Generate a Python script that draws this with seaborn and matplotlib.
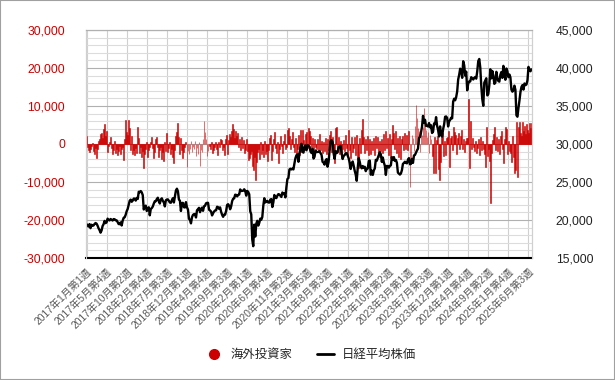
import numpy as np
import pandas as pd
import seaborn as sns
import matplotlib.pyplot as plt
from matplotlib.lines import Line2D
from matplotlib.patches import Rectangle
from matplotlib.ticker import FuncFormatter, MultipleLocator

# weekly Nikkei average close (2017 wk1 .. 2025 Jul wk3)
nikkei = [
    # 2017
    19454, 19287, 19137, 19467, 18918, 19378, 19234, 19283, 19469, 19604, 19521, 19262, 18909,
    18664, 18335, 18620, 19197, 19445, 19883, 19590, 19686, 20177, 20013, 19943, 20132, 20033,
    19929, 20118, 20099, 19959, 19952, 19729, 19470, 19452, 19691, 19274, 19909, 20296, 20356,
    20690, 21155, 21457, 22008, 22539, 22681, 22397, 22550, 22819, 22811, 22553, 22902, 22765,
    # 2018
    23714, 23653, 23808, 23632, 23274, 21383, 21720, 21892, 21182, 21469, 21676, 20618, 21454,
    21568, 21778, 22162, 22468, 22472, 22758, 22930, 22451, 22171, 22694, 22851, 22516, 22305,
    21788, 22597, 22697, 22712, 22525, 22298, 22270, 22601, 22865, 22307, 23094, 23870, 24120,
    23783, 22694, 22532, 21184, 22243, 22250, 21680, 21646, 22351, 21679, 21374, 20166, 20015,
    # 2019
    19561, 20359, 20666, 20773, 20788, 20333, 21281, 21425, 21602, 21025, 21450, 21627, 21205,
    21807, 21870, 22200, 22258, 22258, 21344, 21250, 21117, 20601, 20884, 21116, 21258, 21275,
    21746, 21685, 21466, 21658, 21087, 20684, 20418, 20710, 20704, 21199, 21988, 22079, 21878,
    21410, 21798, 22492, 22799, 22850, 23331, 23303, 23112, 23293, 23354, 24023, 23816, 23837,
    # 2020
    23850, 24041, 23827, 23205, 23828, 23688, 23387, 21143, 20750, 17431, 16553, 19389, 17820,
    19498, 19897, 19262, 19619, 20179, 20037, 20388, 21877, 22863, 22305, 22478, 22512, 22306,
    22291, 22696, 22751, 21710, 22329, 23289, 22920, 22882, 23205, 23406, 23360, 23205, 23029,
    23619, 23410, 23516, 22977, 24325, 25385, 25527, 26644, 26751, 26652, 26763, 26656, 27444,
    # 2021
    28139, 28519, 28631, 27663, 28779, 29520, 30018, 28966, 28864, 29717, 29792, 29177, 29854,
    29768, 29683, 29020, 28813, 29358, 28084, 28318, 29149, 28942, 28949, 28964, 29066, 28783,
    28569, 27652, 27548, 27284, 27820, 28015, 27013, 27641, 29128, 30382, 30500, 30248, 28771,
    28048, 29068, 28804, 28892, 29611, 29609, 29745, 28751, 28029, 28437, 28545, 28782, 28791,
    # 2022
    28479, 28124, 27522, 26717, 27440, 27696, 27122, 26476, 25985, 25163, 26827, 28149, 27666,
    26985, 26799, 27105, 26847, 27003, 26427, 26739, 26782, 27761, 27824, 25963, 26491, 25935,
    26517, 26788, 27914, 27801, 28175, 28546, 28930, 28641, 27650, 28214, 27567, 27153, 25937,
    27116, 27090, 26890, 27105, 27199, 28263, 27899, 28283, 27777, 27901, 27527, 26235, 26094,
    # 2023
    25974, 26120, 26554, 27383, 27509, 27671, 27513, 27453, 27927, 28143, 27333, 27385, 28041,
    27518, 28493, 28564, 28856, 29157, 29388, 30808, 30916, 31524, 32265, 33706, 32781, 33189,
    32388, 32391, 32304, 32759, 32192, 32473, 31450, 31624, 32710, 32607, 33533, 32402, 31858,
    30995, 32316, 31259, 30991, 31950, 32568, 33585, 33626, 33432, 32307, 32970, 33169, 33464,
    # 2024
    33377, 35577, 35963, 35751, 36158, 36897, 38487, 39099, 39911, 39689, 38707, 40888, 40369,
    38992, 39524, 37068, 37934, 38236, 38229, 38787, 38647, 38488, 38683, 38815, 38596, 39583,
    40912, 41190, 40064, 37667, 35910, 35025, 38063, 38364, 38648, 36391, 36581, 37724, 39830,
    38636, 39606, 38982, 37914, 38054, 39500, 38642, 38284, 38208, 39091, 39470, 38702, 40281,
    # 2025
    39190, 38451, 39931, 39572, 38787, 39149, 38776, 37155, 36887, 37053, 37677, 37120, 33780,
    33586, 34730, 35705, 36831, 37503, 37753, 37160, 37965, 37742, 37834, 38403, 40150, 39811,
    39570, 39819,
]

# weekly net buying by foreign investors (same weeks)
flows = [
    2100, -800, -1500, -2000, -1200, -600, 300, -1800, -2500, -1000, -3800, -1400, 900, 1400, 2600, 2800, 1500, 3900, 5300, 2100,
    3400, -2200, -600, 400, 1800, -1100, -2700, -1500, 900, -2300, -1200, -3000, -1800, -600, -2600, -1400, -900, -4200, 1200, 6300,
    3100, 2400, 6300, 4200, -1500, 2000, -2600, -1700, -3000, -1100, -2400, 4400, 1500, -2300, -800, -3400, -1900, -6400, -2600, -1200,
    500, -3300, -1700, -800, 600, 1800, -1100, -3800, -2100, 1200, 1800, -900, -3300, -1500, -700, -4000, -2200, -4500, 600, -1800,
    3000, -2000, -1100, 500, -2600, -1300, -3400, -5100, -1600, 2200, 3100, 5400, 1800, -2500, 1500, -1600, -3800, -2200, -900, 600,
    -6000, -1800, -2700, -1300, 700, -2100, -900, -1400, 800, -3200, -1000, -2500, 400, -5800, -1600, -2200, 1400, 6100, 3200, 1200,
    -3100, -1800, -600, -1200, 500, -2400, -1600, -900, 400, -1400, -2800, 600, -700, 1300, 1000, -1700, -900, -2800, 1200, 2300,
    -2600, 1100, 2600, 1800, 3500, 5300, 4000, 1500, 3400, 2100, 2800, -800, 1200, -1500, 1900, -1100, 1100, -2400, -1500, 1300,
    -1800, -4200, -3600, -2500, -1900, -5800, -6800, -3400, -9500, -4700, -2200, -1200, -4000, 400, -2700, -1500, -3300, 800, -2600, -1800,
    -4600, -1700, 1500, 2300, -4200, -1900, 1200, 3200, -1100, -2300, 500, -5100, -1400, 2000, -600, -2400, 800, 2600, -1300, -800,
    3800, 4100, 2200, -1400, 1300, 3100, -700, -2200, 1500, -2600, -1200, 2300, -3000, 3800, -2200, 3600, 1000, -1600, 2700, 3100,
    -1100, 4100, 3300, 2200, -1800, 1600, -2500, 1400, -900, -1300, 1200, -2100, 2700, -1500, 900, -2400, 600, -1800, 1700, -2600,
    1200, -1500, 2300, 3400, -2200, 1800, -2700, -5100, 4100, 4500, -1400, 1900, -2600, 800, -3200, -1300, 1100, -1900, 2400, -1000,
    -2800, 3700, -1600, -3800, 1900, -2100, -1100, 1800, -2800, 2300, -4200, -6300, 1600, -2400, 3700, 6500, 1800, -2300, 1200, -1600,
    2100, -3000, 1400, -2600, 900, -1700, 1600, -2900, 2200, -1100, 1800, -3400, 700, -1900, 1400, -2400, 2700, -1500, 3300, -1000,
    1500, -2800, 2600, -3800, 1400, 5000, 2900, -1200, 3300, -2400, 1600, -3500, 2100, -4000, 1200, 2200, -1700, 3000, -1300, 2300,
    -1600, 3300, -11200, -5000, 2400, 1500, -1800, 4800, 10300, 6800, 4300, 3500, -2000, 3100, 2300, 4500, 9400, 5200, 3600, 1900,
    3100, -2400, 2400, 1300, -3200, -7700, 1900, -7700, 1100, 2000, -6500, -9400, -4800, 2500, 3000, -3200, 700, -2800, 1500, 1900,
    3300, -6000, 1500, 2200, -1700, 4600, 3100, 2500, -2600, 1600, 2800, -1300, 2200, 3800, -1400, 1200, -2000, 900, 1600, 1600,
    11800, -6400, 6000, -1200, 1500, -800, -1800, 900, -2400, -1100, 1300, -3000, 1900, -1600, 800, -1200, -2600, -6000, 4600, -3200,
    -1300, -4400, -15600, -2400, 1100, 2600, 4600, -1500, 1800, -1900, 1400, -2700, 2200, 3400, -1200, -5100, 1300, 4600, 4000, -2600,
    800, -1800, -2400, -4800, 2100, -3300, -7700, -6800, 5900, -8600, 4500, 5900, 3000, 2200, 5900, 3400, 4800, 2600, 5200, 3800,
    2900, 5400, 4200, 5600,
]

tick_labels = [
    "2017年1月第1週", "2017年5月第4週", "2017年10月第2週", "2018年2月第4週",
    "2018年7月第3週", "2018年12月第1週", "2019年4月第4週", "2019年9月第3週",
    "2020年2月第1週", "2020年6月第4週", "2020年11月第2週", "2021年3月第5週",
    "2021年8月第3週", "2022年1月第1週", "2022年5月第4週", "2022年10月第2週",
    "2023年3月第1週", "2023年7月第3週", "2023年12月第1週", "2024年4月第4週",
    "2024年9月第2週", "2025年1月第4週", "2025年6月第3週",
]

n = min(len(nikkei), len(flows))
df = pd.DataFrame({"week": np.arange(n), "flows": flows[:n], "nikkei": nikkei[:n]})

sns.set_theme(style="white")
plt.rcParams["font.family"] = ["Liberation Sans", "Noto Sans CJK JP", "DejaVu Sans"]

fig = plt.figure(figsize=(6.15, 3.8), dpi=100)
ax = fig.add_axes([86 / 615, 1 - 258 / 380, 446 / 615, 228 / 380])

sns.barplot(data=df, x="week", y="flows", color="#cc0000", saturation=1,
            width=0.9, native_scale=True, errorbar=None,
            linewidth=0.4, edgecolor="#cc0000", ax=ax)

ax2 = ax.twinx()
sns.lineplot(data=df, x="week", y="nikkei", color="black", linewidth=1.7, ax=ax2)

# left axis
ax.set_ylim(-30000, 30000)
ax.set_yticks(range(-30000, 30001, 10000))
ax.yaxis.set_minor_locator(MultipleLocator(2000))
ax.yaxis.set_major_formatter(FuncFormatter(lambda v, p: f"{int(v):,}"))
ax.tick_params(axis="y", which="both", length=0, pad=15, labelsize=8.7, labelcolor="#cc0000")

# right axis
ax2.set_ylim(15000, 45000)
ax2.set_yticks(range(15000, 45001, 5000))
ax2.yaxis.set_major_formatter(FuncFormatter(lambda v, p: f"{int(v):,}"))
ax2.tick_params(axis="y", length=0, pad=17, labelsize=8.7, labelcolor="#222222")
ax2.grid(False)

# x axis
ax.set_xticks(range(0, 20 * len(tick_labels), 20))
ax.set_xticklabels(tick_labels, rotation=45, ha="right", va="top",
                   rotation_mode="anchor", fontsize=7.4, color="#595959")
ax.tick_params(axis="x", length=0, pad=6)
ax.set_xlim(-0.5, n - 0.5)

ax.set_xlabel("")
ax.set_ylabel("")
ax2.set_xlabel("")
ax2.set_ylabel("")

ax.set_axisbelow(True)
ax.grid(axis="y", which="major", color="#b0b0b0", linewidth=0.8)
ax.grid(axis="y", which="minor", color="#dcdcdc", linewidth=0.8)
ax.grid(axis="x", which="major", color="#d0d0d0", linewidth=0.8)

for a in (ax, ax2):
    a.spines["top"].set_color("#b0b0b0")
    a.spines["left"].set_color("#d0d0d0")
    a.spines["right"].set_color("#d0d0d0")
    for s in a.spines.values():
        s.set_linewidth(0.8)
ax.spines["bottom"].set_color("black")
ax.spines["bottom"].set_linewidth(1.5)
ax2.spines["bottom"].set_visible(False)

handles = [
    Line2D([], [], marker="o", color="#cc0000", linestyle="none", markersize=7),
    Line2D([], [], color="black", linewidth=2),
]
fig.legend(handles, ["海外投資家", "日経平均株価"], loc="center",
           bbox_to_anchor=(0.505, 1 - 355 / 380), ncol=2, frameon=False,
           fontsize=8.9, handlelength=1.4, handletextpad=0.6, columnspacing=2.0)

fig.patches.append(Rectangle((0, 0), 1, 1, transform=fig.transFigure,
                             fill=False, edgecolor="#a0a0a0", linewidth=1.5))

plt.savefig("out.png", dpi=100)
